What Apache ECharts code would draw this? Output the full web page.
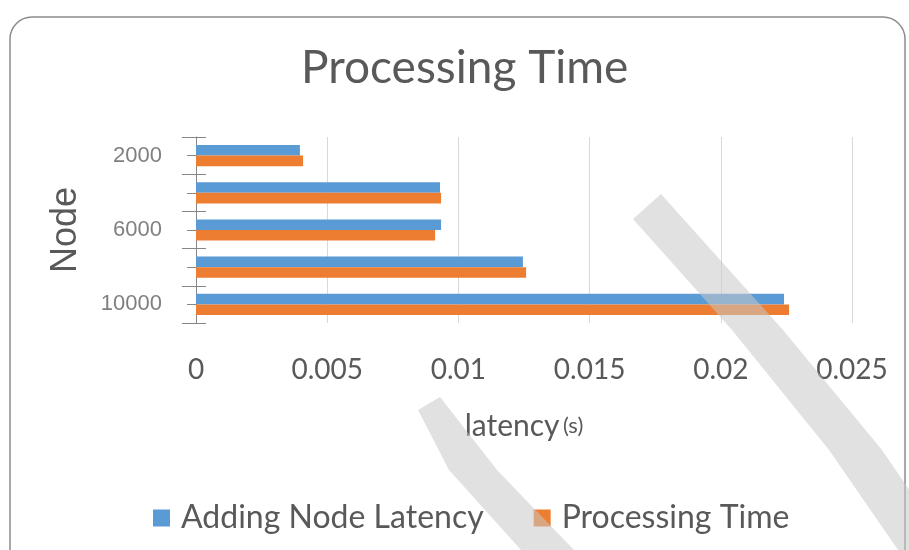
<!DOCTYPE html>
<html>
<head>
<meta charset="utf-8">
<script src="https://cdn.jsdelivr.net/npm/echarts@6/dist/echarts.min.js"></script>
<style>
  html, body { margin: 0; padding: 0; background: #fff; }
  #chart { width: 909px; height: 550px; }
</style>
</head>
<body>
<div id="chart"></div>
<script>
var nodes = ['2000', '4000', '6000', '8000', '10000'];
var addingLatency = [0.00396, 0.0093, 0.00934, 0.01246, 0.02241];
var processingTime = [0.00408, 0.00934, 0.00911, 0.01258, 0.0226];
var seriesNames = ['Adding Node Latency', 'Processing Time'];

var textColor = '#595959';
var mainFont = 'Lato';

var chart = echarts.init(document.getElementById('chart'));

// y axes stacked on the same spot, only to get the crossing ticks
function catAxis(extra) {
    var base = {
        type: 'category',
        data: nodes,
        inverse: true,
        position: 'left',
        axisLine: {show: false},
        axisLabel: {show: false},
        axisTick: {show: false},
        splitLine: {show: false}
    };
    return Object.assign(base, extra);
}

var option = {
    animation: false,
    title: {
        text: 'Processing Time',
        left: 296,
        top: 40,
        textStyle: {fontFamily: mainFont, fontSize: 46, fontWeight: 'normal', color: textColor}
    },
    legend: {
        data: seriesNames,
        left: 148,
        top: 497,
        icon: 'rect',
        itemWidth: 17,
        itemHeight: 17,
        itemGap: 50,
        textStyle: {fontFamily: mainFont, fontSize: 32, color: textColor, padding: [0, 0, 0, 6]}
    },
    grid: {left: 196, right: 57, top: 137, bottom: 227},
    xAxis: {
        type: 'value',
        min: 0,
        max: 0.025,
        interval: 0.005,
        name: '{a|latency} {b|(s)}',
        nameLocation: 'middle',
        nameGap: 88,
        nameTextStyle: {
            rich: {
                a: {fontFamily: mainFont, fontSize: 30, color: textColor},
                b: {fontFamily: mainFont, fontSize: 22, color: textColor}
            }
        },
        axisLine: {show: false},
        axisTick: {show: false},
        axisLabel: {fontFamily: mainFont, fontSize: 28, color: textColor, margin: 33},
        splitLine: {lineStyle: {color: '#d9d9d9', width: 1}}
    },
    yAxis: [
        catAxis({
            name: 'Node',
            nameLocation: 'middle',
            nameGap: 112,
            nameRotate: 90,
            nameTextStyle: {fontFamily: 'Liberation Sans', fontSize: 36, color: textColor},
            axisLine: {show: true, lineStyle: {color: '#868686', width: 1}},
            axisLabel: {show: true, interval: 1, margin: 34, fontFamily: 'Liberation Sans', fontSize: 22, color: '#808080'},
            axisTick: {show: true, interval: 0, length: 14, lineStyle: {color: '#868686'}}
        }),
        catAxis({
            axisTick: {show: true, interval: 0, inside: true, length: 10, lineStyle: {color: '#868686'}}
        }),
        catAxis({
            axisTick: {show: true, interval: 0, alignWithLabel: true, length: 9, lineStyle: {color: '#868686'}}
        })
    ],
    series: [
        {
            name: seriesNames[0],
            type: 'bar',
            yAxisIndex: 0,
            data: addingLatency,
            barGap: '0%',
            barCategoryGap: '43%',
            itemStyle: {color: '#5b9bd5'}
        },
        {
            name: seriesNames[1],
            type: 'bar',
            yAxisIndex: 0,
            data: processingTime,
            barGap: '0%',
            barCategoryGap: '43%',
            itemStyle: {color: '#ed7d31'}
        }
    ],
    graphic: [
        {
            type: 'rect',
            shape: {x: 10, y: 17, width: 895, height: 580, r: 22},
            style: {fill: 'none', stroke: '#8c8c8c', lineWidth: 1.5},
            z: 0
        },
        // watermark strokes
        {
            type: 'polygon',
            shape: {points: [[633, 219], [661, 194], [783, 330], [882, 450], [930, 520], [930, 560], [905, 560], [829, 450], [732, 330]]},
            style: {fill: 'rgba(200,200,200,0.55)'},
            z: 100
        },
        {
            type: 'polygon',
            shape: {points: [[418, 410], [440, 397], [497, 470], [574, 550], [521, 550], [449, 470]]},
            style: {fill: 'rgba(200,200,200,0.55)'},
            z: 100
        }
    ]
};

chart.setOption(option);
</script>
</body>
</html>
